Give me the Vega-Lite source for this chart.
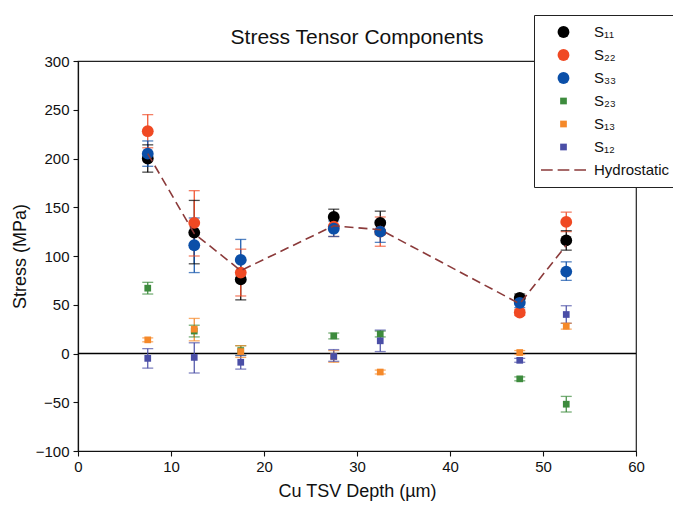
{
  "$schema": "https://vega.github.io/schema/vega-lite/v6.json",
  "width": 558,
  "height": 390,
  "autosize": {"type": "none"},
  "padding": {"left": 78, "top": 61, "right": 37, "bottom": 56},
  "title": {"text": "Stress Tensor Components", "fontSize": 21, "font": "Liberation Sans", "fontWeight": "normal", "color": "#111", "offset": 16, "dy": 49, "anchor": "middle", "frame": "group"},
  "config": {
    "view": {"stroke": "#222", "strokeWidth": 1.2},
    "font": "Liberation Sans",
    "axis": {"grid": false, "domainColor": "#111", "domainWidth": 1.2, "tickColor": "#111", "tickSize": 5, "tickWidth": 1.1, "labelFontSize": 15, "labelColor": "#111", "titleFontSize": 18, "titleFontWeight": "normal", "titleColor": "#111", "labelFont": "Liberation Sans", "titleFont": "Liberation Sans"}
  },
  "resolve": {"scale": {"color": "independent", "shape": "independent", "size": "independent"}},
  "datasets": {
    "pts": [
      {"x": 7.5, "s": "S₁₁", "v": 200, "lo": 186, "hi": 214},
      {"x": 12.5, "s": "S₁₁", "v": 124, "lo": 92, "hi": 157},
      {"x": 17.5, "s": "S₁₁", "v": 76, "lo": 55, "hi": 96},
      {"x": 27.5, "s": "S₁₁", "v": 140, "lo": 131, "hi": 148},
      {"x": 32.5, "s": "S₁₁", "v": 134, "lo": 122, "hi": 146},
      {"x": 47.5, "s": "S₁₁", "v": 57, "lo": 53, "hi": 61},
      {"x": 52.5, "s": "S₁₁", "v": 116, "lo": 106, "hi": 126},
      {"x": 7.5, "s": "S₂₂", "v": 228, "lo": 211, "hi": 245},
      {"x": 12.5, "s": "S₂₂", "v": 134, "lo": 100, "hi": 167},
      {"x": 17.5, "s": "S₂₂", "v": 83, "lo": 59, "hi": 107},
      {"x": 27.5, "s": "S₂₂", "v": 130, "lo": 120, "hi": 140},
      {"x": 32.5, "s": "S₂₂", "v": 125, "lo": 110, "hi": 140},
      {"x": 47.5, "s": "S₂₂", "v": 42, "lo": 39, "hi": 45},
      {"x": 52.5, "s": "S₂₂", "v": 135, "lo": 125, "hi": 145},
      {"x": 7.5, "s": "S₃₃", "v": 205, "lo": 192, "hi": 218},
      {"x": 12.5, "s": "S₃₃", "v": 111, "lo": 83, "hi": 139},
      {"x": 17.5, "s": "S₃₃", "v": 96, "lo": 75, "hi": 117},
      {"x": 27.5, "s": "S₃₃", "v": 128, "lo": 120, "hi": 136},
      {"x": 32.5, "s": "S₃₃", "v": 125, "lo": 114, "hi": 136},
      {"x": 47.5, "s": "S₃₃", "v": 52, "lo": 47, "hi": 57},
      {"x": 52.5, "s": "S₃₃", "v": 84, "lo": 75, "hi": 94},
      {"x": 7.5, "s": "S₂₃", "v": 67, "lo": 61, "hi": 73},
      {"x": 12.5, "s": "S₂₃", "v": 23, "lo": 17, "hi": 29},
      {"x": 17.5, "s": "S₂₃", "v": 3, "lo": -2, "hi": 8},
      {"x": 27.5, "s": "S₂₃", "v": 18, "lo": 15, "hi": 21},
      {"x": 32.5, "s": "S₂₃", "v": 20, "lo": 17, "hi": 23},
      {"x": 47.5, "s": "S₂₃", "v": -26, "lo": -28, "hi": -24},
      {"x": 52.5, "s": "S₂₃", "v": -52, "lo": -60, "hi": -44},
      {"x": 7.5, "s": "S₁₃", "v": 14, "lo": 12, "hi": 16},
      {"x": 12.5, "s": "S₁₃", "v": 25, "lo": 13, "hi": 36},
      {"x": 17.5, "s": "S₁₃", "v": 2, "lo": -4, "hi": 8},
      {"x": 27.5, "s": "S₁₃", "v": -3, "lo": -9, "hi": 3},
      {"x": 32.5, "s": "S₁₃", "v": -19, "lo": -21, "hi": -17},
      {"x": 47.5, "s": "S₁₃", "v": 1, "lo": -1, "hi": 3},
      {"x": 52.5, "s": "S₁₃", "v": 28, "lo": 25, "hi": 31},
      {"x": 7.5, "s": "S₁₂", "v": -5, "lo": -15, "hi": 5},
      {"x": 12.5, "s": "S₁₂", "v": -4, "lo": -20, "hi": 11},
      {"x": 17.5, "s": "S₁₂", "v": -9, "lo": -16, "hi": -2},
      {"x": 27.5, "s": "S₁₂", "v": -3, "lo": -8, "hi": 4},
      {"x": 32.5, "s": "S₁₂", "v": 13, "lo": 2, "hi": 24},
      {"x": 47.5, "s": "S₁₂", "v": -7, "lo": -9, "hi": -5},
      {"x": 52.5, "s": "S₁₂", "v": 40, "lo": 31, "hi": 49}
    ],
    "hyd": [
      {"x": 7.5, "v": 205},
      {"x": 12.5, "v": 123},
      {"x": 17.5, "v": 85},
      {"x": 27.5, "v": 131},
      {"x": 32.5, "v": 127},
      {"x": 47.5, "v": 51},
      {"x": 52.5, "v": 111}
    ]
  },
  "layer": [
    {
      "data": {"values": [{"z": 0}]},
      "mark": {"type": "rule", "color": "#000", "strokeWidth": 1.3},
      "encoding": {
        "y": {"field": "z", "type": "quantitative", "scale": {"domain": [-100, 300], "nice": false}, "axis": {"title": "Stress (MPa)", "values": [-100, -50, 0, 50, 100, 150, 200, 250, 300], "labelPadding": 4, "titlePadding": 6}}
      }
    },
    {
      "data": {"name": "pts"},
      "mark": {"type": "rule", "strokeWidth": 1.2},
      "encoding": {
        "x": {"field": "x", "type": "quantitative", "scale": {"domain": [0, 60], "nice": false}, "axis": {"title": "Cu TSV Depth (µm)", "values": [0, 10, 20, 30, 40, 50, 60], "labelPadding": 3, "titlePadding": 8, "labelFlush": false}},
        "y": {"field": "lo", "type": "quantitative", "scale": {"domain": [-100, 300], "nice": false}, "axis": {"title": "Stress (MPa)", "values": [-100, -50, 0, 50, 100, 150, 200, 250, 300], "labelPadding": 4, "titlePadding": 6}},
        "y2": {"field": "hi"},
        "color": {"field": "s", "type": "nominal", "legend": null, "scale": {"domain": ["S₁₁", "S₂₂", "S₃₃", "S₂₃", "S₁₃", "S₁₂"], "range": ["#000000", "#f04923", "#0b4fa8", "#3d8b3d", "#f5892a", "#4a4ea6"]}}
      }
    },
    {
      "data": {"name": "pts"},
      "mark": {"type": "tick", "orient": "horizontal", "size": 11, "thickness": 1.3},
      "encoding": {
        "x": {"field": "x", "type": "quantitative", "scale": {"domain": [0, 60], "nice": false}, "axis": {"title": "Cu TSV Depth (µm)", "values": [0, 10, 20, 30, 40, 50, 60], "labelPadding": 3, "titlePadding": 8, "labelFlush": false}},
        "y": {"field": "lo", "type": "quantitative", "scale": {"domain": [-100, 300], "nice": false}, "axis": {"title": "Stress (MPa)", "values": [-100, -50, 0, 50, 100, 150, 200, 250, 300], "labelPadding": 4, "titlePadding": 6}},
        "color": {"field": "s", "type": "nominal", "legend": null, "scale": {"domain": ["S₁₁", "S₂₂", "S₃₃", "S₂₃", "S₁₃", "S₁₂"], "range": ["#000000", "#f04923", "#0b4fa8", "#3d8b3d", "#f5892a", "#4a4ea6"]}}
      }
    },
    {
      "data": {"name": "pts"},
      "mark": {"type": "tick", "orient": "horizontal", "size": 11, "thickness": 1.3},
      "encoding": {
        "x": {"field": "x", "type": "quantitative", "scale": {"domain": [0, 60], "nice": false}, "axis": {"title": "Cu TSV Depth (µm)", "values": [0, 10, 20, 30, 40, 50, 60], "labelPadding": 3, "titlePadding": 8, "labelFlush": false}},
        "y": {"field": "hi", "type": "quantitative", "scale": {"domain": [-100, 300], "nice": false}, "axis": {"title": "Stress (MPa)", "values": [-100, -50, 0, 50, 100, 150, 200, 250, 300], "labelPadding": 4, "titlePadding": 6}},
        "color": {"field": "s", "type": "nominal", "legend": null, "scale": {"domain": ["S₁₁", "S₂₂", "S₃₃", "S₂₃", "S₁₃", "S₁₂"], "range": ["#000000", "#f04923", "#0b4fa8", "#3d8b3d", "#f5892a", "#4a4ea6"]}}
      }
    },
    {
      "data": {"name": "pts"},
      "mark": {"type": "point", "filled": true, "opacity": 1},
      "encoding": {
        "x": {"field": "x", "type": "quantitative", "scale": {"domain": [0, 60], "nice": false}, "axis": {"title": "Cu TSV Depth (µm)", "values": [0, 10, 20, 30, 40, 50, 60], "labelPadding": 3, "titlePadding": 8, "labelFlush": false}},
        "y": {"field": "v", "type": "quantitative", "scale": {"domain": [-100, 300], "nice": false}, "axis": {"title": "Stress (MPa)", "values": [-100, -50, 0, 50, 100, 150, 200, 250, 300], "labelPadding": 4, "titlePadding": 6}},
        "color": {
          "field": "s", "type": "nominal",
          "scale": {"domain": ["S₁₁", "S₂₂", "S₃₃", "S₂₃", "S₁₃", "S₁₂", "Hydrostatic"], "range": ["#000000", "#f04923", "#0b4fa8", "#3d8b3d", "#f5892a", "#4a4ea6", "#8b3a3a"]},
          "legend": {"title": null, "orient": "none", "legendX": 456, "legendY": -46, "strokeColor": "#222", "fillColor": "#ffffff", "padding": 7, "labelFontSize": 15, "labelFont": "Liberation Sans", "labelColor": "#111", "clipHeight": 20, "rowPadding": 3, "labelOffset": 8, "symbolOffset": 0, "symbolStrokeWidth": 0, "symbolOpacity": 1}
        },
        "shape": {
          "field": "s", "type": "nominal",
          "scale": {"domain": ["S₁₁", "S₂₂", "S₃₃", "S₂₃", "S₁₃", "S₁₂", "Hydrostatic"], "range": ["circle", "circle", "circle", "square", "square", "square", "M-1,-0.035L-0.48,-0.035L-0.48,0.035L-1,0.035Z M-0.26,-0.035L0.26,-0.035L0.26,0.035L-0.26,0.035Z M0.48,-0.035L1,-0.035L1,0.035L0.48,0.035Z"]},
          "legend": {"title": null, "orient": "none", "legendX": 456, "legendY": -46, "strokeColor": "#222", "fillColor": "#ffffff", "padding": 7, "labelFontSize": 15, "labelFont": "Liberation Sans", "labelColor": "#111", "clipHeight": 20, "rowPadding": 3, "labelOffset": 8, "symbolOffset": 0, "symbolStrokeWidth": 0, "symbolOpacity": 1}
        },
        "size": {
          "field": "s", "type": "nominal",
          "scale": {"type": "ordinal", "domain": ["S₁₁", "S₂₂", "S₃₃", "S₂₃", "S₁₃", "S₁₂", "Hydrostatic"], "range": [140, 140, 140, 45, 45, 45, 2025]},
          "legend": {"title": null, "orient": "none", "legendX": 456, "legendY": -46, "strokeColor": "#222", "fillColor": "#ffffff", "padding": 7, "labelFontSize": 15, "labelFont": "Liberation Sans", "labelColor": "#111", "clipHeight": 20, "rowPadding": 3, "labelOffset": 8, "symbolOffset": 0, "symbolStrokeWidth": 0, "symbolOpacity": 1}
        }
      }
    },
    {
      "data": {"name": "hyd"},
      "mark": {"type": "line", "color": "#8b3a3a", "strokeWidth": 1.6, "strokeDash": [9, 5]},
      "encoding": {
        "x": {"field": "x", "type": "quantitative", "scale": {"domain": [0, 60], "nice": false}, "axis": {"title": "Cu TSV Depth (µm)", "values": [0, 10, 20, 30, 40, 50, 60], "labelPadding": 3, "titlePadding": 8, "labelFlush": false}},
        "y": {"field": "v", "type": "quantitative", "scale": {"domain": [-100, 300], "nice": false}, "axis": {"title": "Stress (MPa)", "values": [-100, -50, 0, 50, 100, 150, 200, 250, 300], "labelPadding": 4, "titlePadding": 6}}
      }
    }
  ]
}
